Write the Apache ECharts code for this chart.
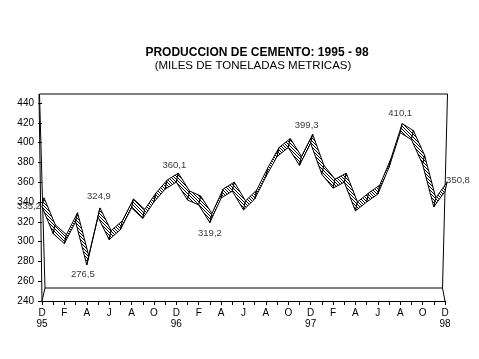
<!DOCTYPE html>
<html><head><meta charset="utf-8">
<script src="https://cdn.jsdelivr.net/npm/echarts@6/dist/echarts.min.js"></script>
<style>html,body{margin:0;padding:0;background:#fff}#c{width:479px;height:359px}</style>
</head><body><div id="c"></div>
<script>
// ---- data ----
const months = ['D','E','F','M','A','M','J','J','A','S','O','N',
                'D','E','F','M','A','M','J','J','A','S','O','N',
                'D','E','F','M','A','M','J','J','A','S','O','N','D'];
const yearIndex = [0, 12, 24, 36];
const yearLabels = ['95', '96', '97', '98'];
const production = [335.2, 308, 298, 320, 276.5, 324.9, 302, 312, 334, 323.5, 340, 353,
                     360.1, 342, 337, 319.2, 344, 351, 332, 343, 365.6, 386, 395, 377,
                     399.3, 368, 354, 360, 331, 340, 348, 375, 410.1, 403, 378, 335, 350.8];
const labeledIndex = [0, 4, 5, 12, 15, 24, 32, 36];
const yMin = 240, yMax = 440, yStep = 20;

// ---- styles ----
const DEPTH = [2, -9];  // ribbon depth offset in px
const labelOffsets = {0:[-13,0], 4:[-4,10], 5:[1,-21], 12:[-2,-17], 15:[0,11], 24:[-4,-18], 32:[0,-19], 36:[13,-11]};

function hatch(){
  const c = document.createElement('canvas'); c.width = 3; c.height = 3;
  const g = c.getContext('2d');
  g.fillStyle = '#fff'; g.fillRect(0,0,3,3);
  g.fillStyle = '#000';
  for (let i = 0; i < 3; i++) g.fillRect(i, i, 1, 1);
  return c;
}
const pat = hatch();

const chart = echarts.init(document.getElementById('c'), null, {renderer:'canvas'});
const FONT = 'Liberation Sans, Arial, sans-serif';

chart.setOption({
  backgroundColor: '#fff',
  animation: false,
  title: [
    {text: 'PRODUCCION DE CEMENTO: 1995 - 98', left: 252, top: 42, textAlign: 'center',
     textStyle: {fontFamily: FONT, fontSize: 12, fontWeight: 'bold', color: '#000'}},
    {text: '(MILES DE TONELADAS METRICAS)', left: 248, top: 55, textAlign: 'center',
     textStyle: {fontFamily: FONT, fontSize: 11.5, fontWeight: 'normal', color: '#000'}}
  ],
  grid: {left: 42, right: 34, top: 103, bottom: 58, containLabel: false},
  xAxis: {
    type: 'category', data: months, boundaryGap: false,
    axisLine: {lineStyle: {color: '#000', width: 1}},
    axisTick: {interval: 0, length: 4, lineStyle: {color: '#000'}},
    axisLabel: {interval: 1, margin: 7, color: '#000', fontFamily: FONT, fontSize: 10, lineHeight: 11,
      formatter: (v, i) => { const k = yearIndex.indexOf(i); return k >= 0 ? v + '\n' + yearLabels[k] : v; }},
    splitLine: {show: false}
  },
  yAxis: {
    type: 'value', min: yMin, max: yMax, interval: yStep,
    axisLine: {show: false},
    axisTick: {show: true, length: 4, lineStyle: {color: '#000'}},
    axisLabel: {margin: 8, color: '#000', fontFamily: FONT, fontSize: 10},
    splitLine: {show: false}
  },
  series: [
    {
      type: 'custom',
      data: production.slice(0, -1).map((v, i) => [i, v]),
      encode: {x: 0, y: 1},
      clip: false,
      renderItem: function (params, api) {
        const i = api.value(0);
        const p1 = api.coord([i, production[i]]);
        const p2 = api.coord([i + 1, production[i + 1]]);
        const b1 = [p1[0] + DEPTH[0], p1[1] + DEPTH[1]];
        const b2 = [p2[0] + DEPTH[0], p2[1] + DEPTH[1]];
        return {type: 'polygon', shape: {points: [p1, p2, b2, b1]},
          style: {fill: {image: pat, repeat: 'repeat'}, stroke: '#000', lineWidth: 1}};
      }
    },
    {
      type: 'scatter', symbolSize: 0, silent: true,
      data: labeledIndex.map(i => [i, production[i]]),
      label: {show: true, position: 'inside', color: '#000', fontFamily: FONT, fontSize: 9.5,
        formatter: p => String(p.value[1]).replace('.', ',')},
      labelLayout: p => { const i = labeledIndex[p.dataIndex]; const o = labelOffsets[i];
        return {dx: o[0], dy: o[1]}; }
    }
  ]
});

// 3D frame from the grid's own scale
const pLB = chart.convertToPixel({gridIndex: 0}, [0, yMin]);
const pRB = chart.convertToPixel({gridIndex: 0}, [months.length - 1, yMin]);
const pLT = chart.convertToPixel({gridIndex: 0}, [0, yMax]);
const xL = pLB[0], xR = pRB[0], yB = pLB[1], yT = pLT[1];
const yTop = yT - 9, yBack = yB - 13;
const ln = (a, b) => ({type: 'line', silent: true, shape: {x1: a[0], y1: a[1], x2: b[0], y2: b[1]},
  style: {stroke: '#000', lineWidth: 1}, z: -1});
chart.setOption({graphic: [
  ln([xL - 2.5, yTop], [xR + 2.5, yTop]),
  ln([xL - 3, yTop], [xL, yB]),
  ln([xL - 2.5, yTop], [xL + 3, yBack]),
  ln([xL + 3, yBack], [xR - 2.5, yBack]),
  ln([xL, yB], [xL + 3, yBack]),
  ln([xR + 2.5, yTop], [xR - 2.5, yBack]),
  ln([xR - 2.5, yBack], [xR, yB])
]});
</script></body></html>
